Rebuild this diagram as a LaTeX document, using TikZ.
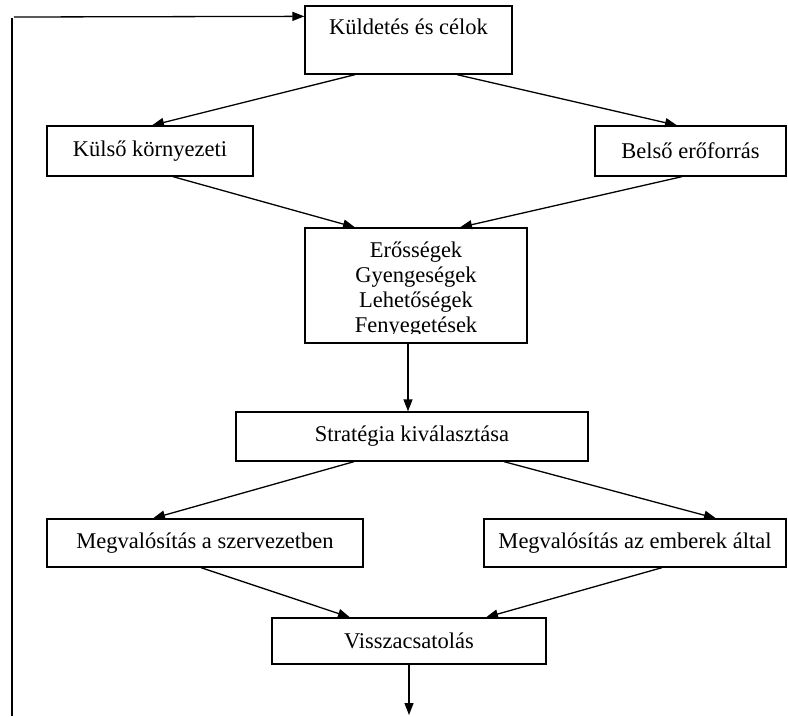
\documentclass[tikz,border=0pt]{standalone}
\usepackage{fontspec}
\setmainfont{Liberation Serif}
\usetikzlibrary{positioning,arrows.meta,calc}

\begin{document}
\begin{tikzpicture}[
  x=1pt, y=-1pt,
  font=\fontsize{22.5}{25}\selectfont,
  doboz/.style={draw, rectangle, align=center, line width=1.3pt, inner sep=0pt},
  nyil/.style={-{Triangle[length=12pt, width=9pt]}, line width=1.3pt},
  vonal/.style={line width=1.3pt}]
\useasboundingbox (0,0) rectangle (788,716);
% Fo dobozok
\node[doboz, minimum width=207pt, minimum height=68pt, text height=15pt,
  text depth=27pt] (kuldetes) at (408.5,40) {Küldetés és célok};
\node[doboz, minimum width=206pt, minimum height=50pt] (kulso) at (150,151) {Külső környezeti};
\node[doboz, minimum width=191pt, minimum height=50pt] (belso) at (690.5,151) {Belső erőforrás};
% SWOT doboz, az also sor levagva
\node[doboz, minimum width=222pt, minimum height=115pt, path picture={
    \node[align=center] (swotszoveg) at ($(path picture bounding box.center)+(0,4)$)
      {Erősségek\\Gyengeségek\\Lehetőségek\\Fenyegetések};
    \fill[white] ($(path picture bounding box.south west)+(1,-9)$)
      rectangle ($(path picture bounding box.south east)+(-1,0)$);
  }] (swot) at (416,285.5) {};
\node[doboz, minimum width=352pt, minimum height=49pt] (strat) at (412,436.5) {Stratégia kiválasztása};
\node[doboz, minimum width=316pt, minimum height=48pt] (szervezet) at (205,543) {Megvalósítás a szervezetben};
\node[doboz, minimum width=302pt, minimum height=48pt] (emberek) at (635,543) {Megvalósítás az emberek által};
\node[doboz, minimum width=274pt, minimum height=46pt] (visszacs) at (409,641) {Visszacsatolás};
% Nyilak lefele
\draw[nyil] ($(kuldetes.south)+(-53.5,0)$) -- ($(kulso.north)+(2,0)$);
\draw[nyil] ($(kuldetes.south)+(48.5,0)$) -- ($(belso.north)+(-13.5,0)$);
\draw[nyil] ($(kulso.south)+(23,0)$) -- ($(swot.north)+(-61,0)$);
\draw[nyil] ($(belso.south)+(-8.5,0)$) -- ($(swot.north)+(44,0)$);
\draw[nyil] ($(swot.south)+(-8,0)$) -- ($(strat.north)+(-4,0)$);
\draw[nyil] ($(strat.south)+(-58,0)$) -- ($(szervezet.north)+(-52,0)$);
\draw[nyil] ($(strat.south)+(92,0)$) -- ($(emberek.north)+(81,0)$);
\draw[nyil] ($(szervezet.south)+(-4,0)$) -- ($(visszacs.north)+(-59,0)$);
\draw[nyil] ($(emberek.south)+(27,0)$) -- ($(visszacs.north)+(77,0)$);
\coordinate (kimenet) at (409,715);
\draw[nyil] (visszacs.south) -- (kimenet);
% Visszacsatolo hurok a bal szelen
\coordinate (hurokalja) at (12,716);
\coordinate (huroksarok) at (12,18);
\draw[vonal] (hurokalja) -- (huroksarok);
\draw[nyil] ($(huroksarok)+(2,-1)$) -- ($(kuldetes.north west)+(0,11)$);
\end{tikzpicture}
\end{document}
